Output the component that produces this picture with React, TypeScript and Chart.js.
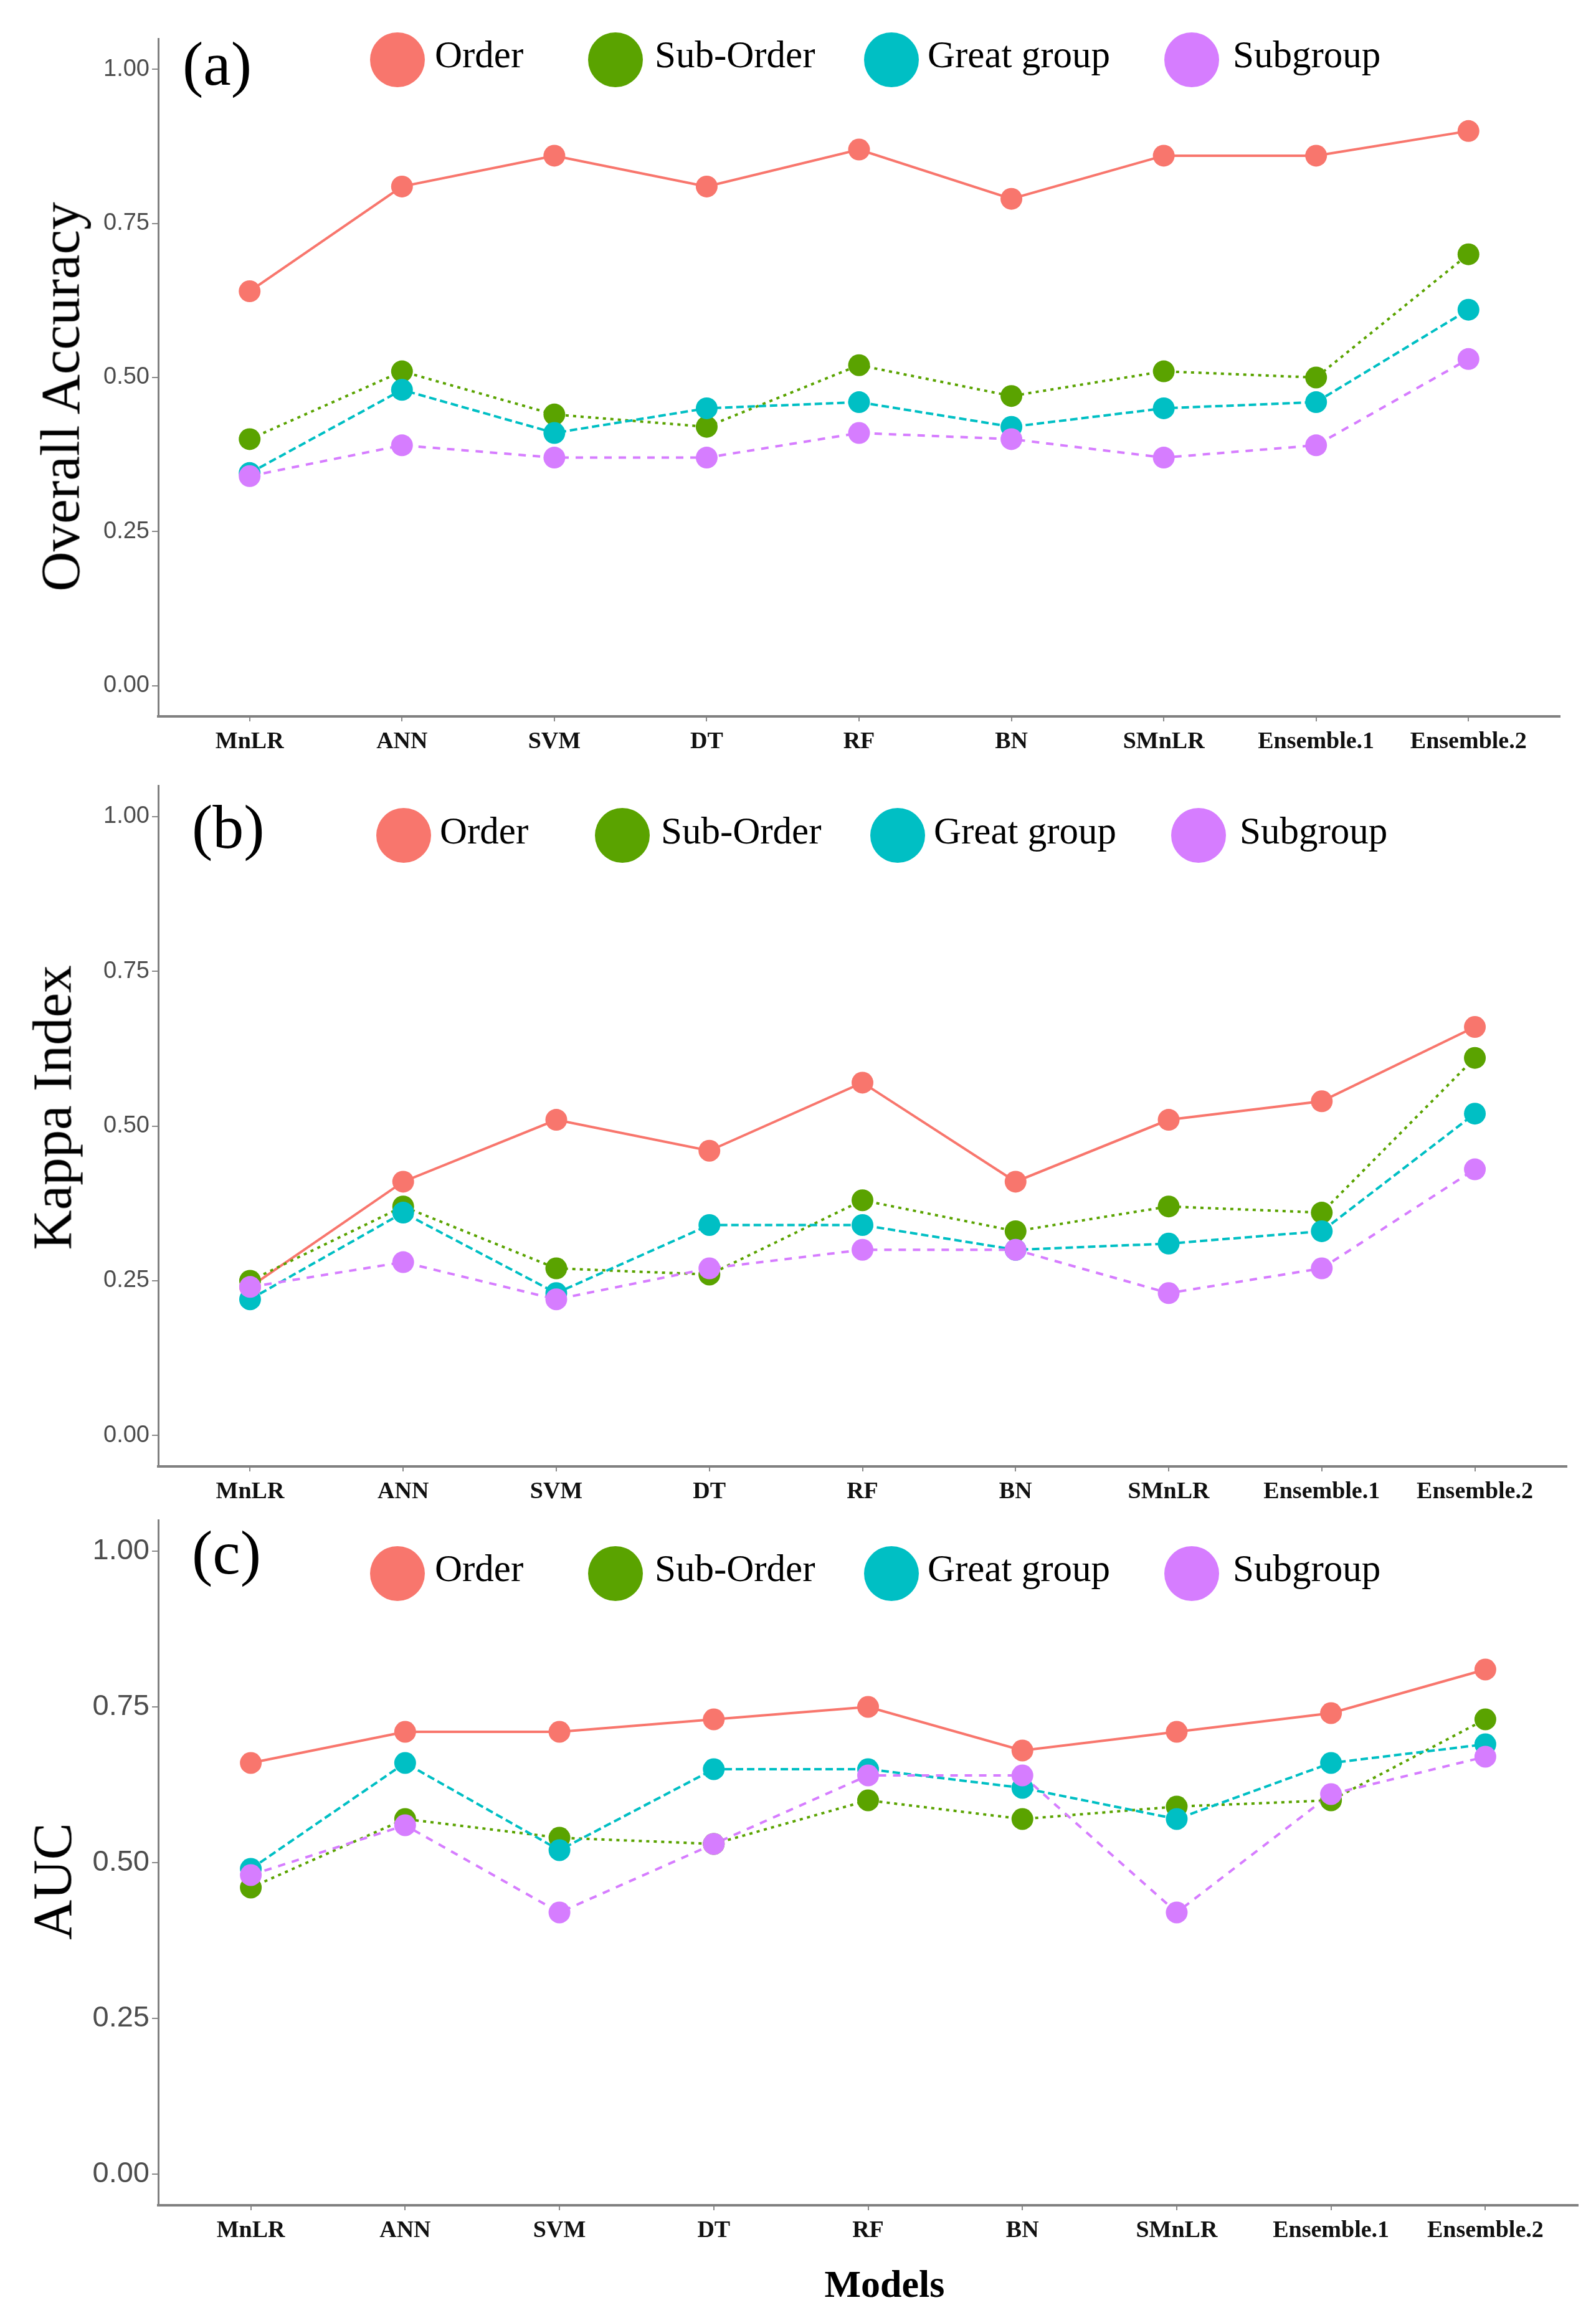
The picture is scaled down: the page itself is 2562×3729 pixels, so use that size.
import { useEffect, useRef } from 'react';
import { Chart, registerables } from 'chart.js';

Chart.register(...registerables);

// categories shared by all three panels
const models = ['MnLR', 'ANN', 'SVM', 'DT', 'RF', 'BN', 'SMnLR', 'Ensemble.1', 'Ensemble.2'];
const yTickValues = [0, 0.25, 0.5, 0.75, 1.0];
const seriesNames = ['Order', 'Sub-Order', 'Great group', 'Subgroup'];

// (a) Overall Accuracy
const oaOrder = [0.64, 0.81, 0.86, 0.81, 0.87, 0.79, 0.86, 0.86, 0.90];
const oaSubOrder = [0.40, 0.51, 0.44, 0.42, 0.52, 0.47, 0.51, 0.50, 0.70];
const oaGreatGroup = [0.345, 0.48, 0.41, 0.45, 0.46, 0.42, 0.45, 0.46, 0.61];
const oaSubgroup = [0.34, 0.39, 0.37, 0.37, 0.41, 0.40, 0.37, 0.39, 0.53];

// (b) Kappa Index
const kappaOrder = [0.24, 0.41, 0.51, 0.46, 0.57, 0.41, 0.51, 0.54, 0.66];
const kappaSubOrder = [0.25, 0.37, 0.27, 0.26, 0.38, 0.33, 0.37, 0.36, 0.61];
const kappaGreatGroup = [0.22, 0.36, 0.23, 0.34, 0.34, 0.30, 0.31, 0.33, 0.52];
const kappaSubgroup = [0.24, 0.28, 0.22, 0.27, 0.30, 0.30, 0.23, 0.27, 0.43];

// (c) AUC
const aucOrder = [0.66, 0.71, 0.71, 0.73, 0.75, 0.68, 0.71, 0.74, 0.81];
const aucSubOrder = [0.46, 0.57, 0.54, 0.53, 0.60, 0.57, 0.59, 0.60, 0.73];
const aucGreatGroup = [0.49, 0.66, 0.52, 0.65, 0.65, 0.62, 0.57, 0.66, 0.69];
const aucSubgroup = [0.48, 0.56, 0.42, 0.53, 0.64, 0.64, 0.42, 0.61, 0.67];

const seriesColors = ['#F8766D', '#5AA300', '#00BFC4', '#D67DFF'];
const seriesDash: number[][] = [[], [5, 7], [12, 6], [12, 11]];

const SERIF = '"Liberation Serif", "Times New Roman", serif';
const SANS = '"Liberation Sans", Arial, sans-serif';
const PAGE_W = 2562;
const TOP_PAD = 60;
const X_AXIS_H = 110;

interface PanelSpec {
    tag: string;
    yTitle: string;
    values: number[][];
    chartTop: number;
    chartBottom: number;
    chartRight: number;
    yTickSize: number;
    tagX: number;
    tagBaseline: number;
    titleX: number; // centre of rotated title box
    titleY: number;
    legendCircles: number[];
    legendTexts: number[];
    legendY: number;
    legendBaseline: number;
}

const panels: PanelSpec[] = [
    {
        tag: '(a)', yTitle: 'Overall Accuracy',
        values: [oaOrder, oaSubOrder, oaGreatGroup, oaSubgroup],
        chartTop: 62, chartBottom: 1150, chartRight: 2504, yTickSize: 38,
        tagX: 293, tagBaseline: 137, titleX: 97, titleY: 637,
        legendCircles: [638, 988, 1431, 1913], legendTexts: [698, 1051, 1489, 1979],
        legendY: 96, legendBaseline: 108,
    },
    {
        tag: '(b)', yTitle: 'Kappa Index',
        values: [kappaOrder, kappaSubOrder, kappaGreatGroup, kappaSubgroup],
        chartTop: 1261, chartBottom: 2354, chartRight: 2515, yTickSize: 38,
        tagX: 308, tagBaseline: 1362, titleX: 84, titleY: 1778,
        legendCircles: [648, 999, 1441, 1924], legendTexts: [706, 1061, 1499, 1990],
        legendY: 1341, legendBaseline: 1354,
    },
    {
        tag: '(c)', yTitle: 'AUC',
        values: [aucOrder, aucSubOrder, aucGreatGroup, aucSubgroup],
        chartTop: 2440, chartBottom: 3540, chartRight: 2533, yTickSize: 47,
        tagX: 308, tagBaseline: 2527, titleX: 84, titleY: 3020,
        legendCircles: [638, 988, 1431, 1913], legendTexts: [698, 1051, 1489, 1979],
        legendY: 2526, legendBaseline: 2538,
    },
];

function buildDatasets(values: number[][]) {
    // lines underneath, points on top (like geom_line + geom_point)
    const lines = values.map((vals, s) => ({
        label: seriesNames[s],
        data: vals.map((y, i) => ({ x: i, y })),
        borderColor: seriesColors[s],
        borderWidth: 4,
        borderDash: seriesDash[s],
        pointRadius: 0,
        pointHoverRadius: 0,
        fill: false,
        tension: 0,
        order: 8 - s,
    }));
    const points = values.map((vals, s) => ({
        label: seriesNames[s] + ' points',
        data: vals.map((y, i) => ({ x: i, y })),
        showLine: false,
        pointRadius: 17.5,
        pointHoverRadius: 17.5,
        pointBackgroundColor: seriesColors[s],
        pointBorderColor: seriesColors[s],
        pointBorderWidth: 0,
        order: 4 - s,
    }));
    return [...lines, ...points];
}

const Panel: React.FC<{ spec: PanelSpec }> = ({ spec }) => {
    const canvasRef = useRef<HTMLCanvasElement>(null);
    const chartRef = useRef<Chart | null>(null);
    const canvasTop = spec.chartTop - TOP_PAD;
    const canvasH = spec.chartBottom + X_AXIS_H - canvasTop;

    useEffect(() => {
        if (!canvasRef.current) return;
        const ctx = canvasRef.current.getContext('2d');
        if (!ctx) return;

        if (chartRef.current) chartRef.current.destroy();

        chartRef.current = new Chart(ctx, {
            type: 'line',
            data: { datasets: buildDatasets(spec.values) as any },
            options: {
                responsive: false,
                animation: false,
                events: [],
                layout: { padding: { top: TOP_PAD, left: 0, bottom: 0, right: PAGE_W - spec.chartRight } },
                plugins: { legend: { display: false }, tooltip: { enabled: false } },
                scales: {
                    x: {
                        type: 'linear',
                        min: -0.6,
                        max: models.length - 1 + 0.6,
                        afterBuildTicks: (scale: any) => {
                            scale.ticks = models.map((_, i) => ({ value: i }));
                        },
                        afterFit: (scale: any) => { scale.height = X_AXIS_H; },
                        ticks: {
                            autoSkip: false,
                            maxRotation: 0,
                            minRotation: 0,
                            padding: 10,
                            color: '#111',
                            font: { family: SERIF, size: 38, weight: 'bold' },
                            callback: (v: any) => models[Math.round(Number(v))] ?? '',
                        },
                        grid: { drawOnChartArea: false, drawTicks: true, tickLength: 8, color: '#8a8a8a', lineWidth: 2 },
                        border: { display: true, color: '#808080', width: 4 },
                    },
                    y: {
                        type: 'linear',
                        min: -0.05,
                        max: 1.05,
                        afterBuildTicks: (scale: any) => {
                            scale.ticks = yTickValues.map(v => ({ value: v }));
                        },
                        afterFit: (scale: any) => { scale.width = 254; },
                        ticks: {
                            padding: 4,
                            color: '#4D4D4D',
                            font: { family: SANS, size: spec.yTickSize },
                            callback: (v: any) => Number(v).toFixed(2),
                        },
                        grid: { drawOnChartArea: false, drawTicks: true, tickLength: 10, color: '#8a8a8a', lineWidth: 2 },
                        border: { display: true, color: '#808080', width: 3 },
                    },
                },
            },
        });

        return () => {
            if (chartRef.current) {
                chartRef.current.destroy();
                chartRef.current = null;
            }
        };
    }, [spec]);

    const serifText = (size: number, baseline: number) => ({
        position: 'absolute' as const,
        top: baseline - 0.8375 * size,
        fontFamily: SERIF,
        fontSize: size,
        lineHeight: 1,
        whiteSpace: 'nowrap' as const,
        color: '#000',
    });

    return (
        <>
            <canvas
                ref={canvasRef}
                width={PAGE_W}
                height={canvasH}
                style={{ position: 'absolute', left: 0, top: canvasTop, width: PAGE_W, height: canvasH }}
            />
            <div style={{ ...serifText(100, spec.tagBaseline), left: spec.tagX }}>{spec.tag}</div>
            {seriesNames.map((name, s) => (
                <div key={name}>
                    <div style={{
                        position: 'absolute', left: spec.legendCircles[s] - 44, top: spec.legendY - 44,
                        width: 88, height: 88, borderRadius: '50%', background: seriesColors[s],
                    }} />
                    <div style={{ ...serifText(61, spec.legendBaseline), left: spec.legendTexts[s] }}>{name}</div>
                </div>
            ))}
            <div style={{
                position: 'absolute', left: spec.titleX, top: spec.titleY,
                transform: 'translate(-50%, -50%) rotate(-90deg)',
                fontFamily: SERIF, fontSize: 89, lineHeight: 1, whiteSpace: 'nowrap', color: '#000',
            }}>{spec.yTitle}</div>
        </>
    );
};

export default function App() {
    return (
        <div style={{ position: 'absolute', left: 0, top: 0, width: PAGE_W, height: 3729, background: '#fff', overflow: 'hidden' }}>
            {panels.map(p => <Panel key={p.tag} spec={p} />)}
            <div style={{
                position: 'absolute', left: 1420, top: 3687 - 0.8375 * 62, transform: 'translateX(-50%)',
                fontFamily: SERIF, fontSize: 62, fontWeight: 'bold', lineHeight: 1, whiteSpace: 'nowrap', color: '#000',
            }}>Models</div>
        </div>
    );
}
